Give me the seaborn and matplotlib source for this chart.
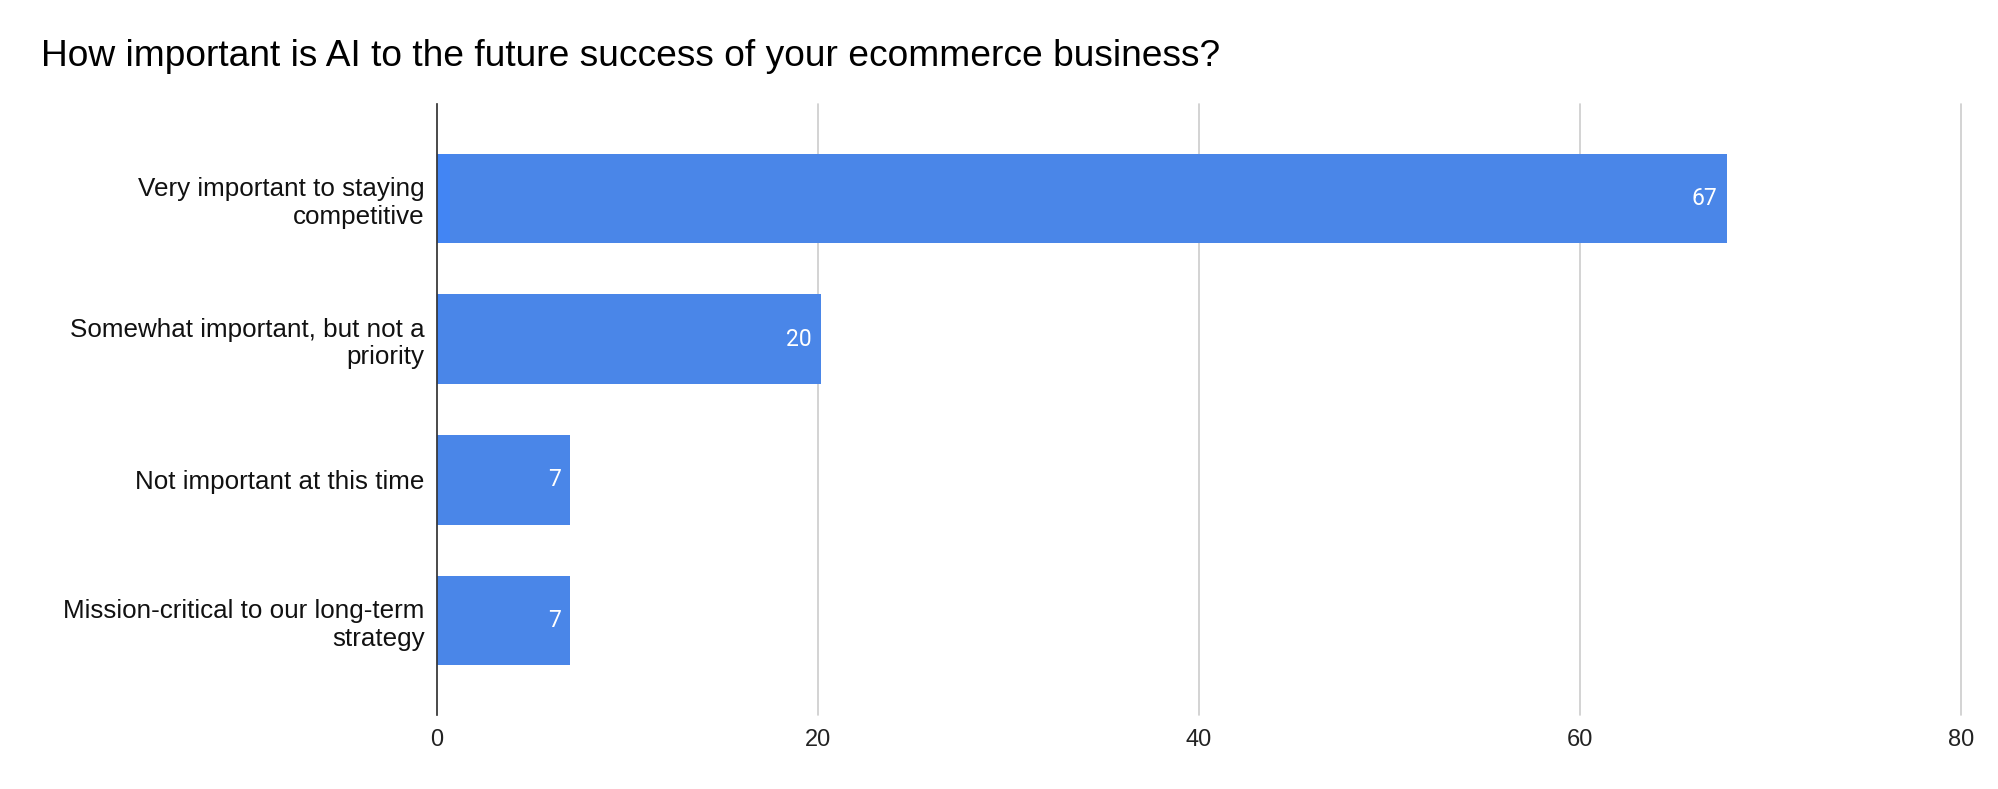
import matplotlib
matplotlib.use("Agg")
import matplotlib.pyplot as plt
import seaborn as sns
import numpy as np

categories = [
    "Very important to staying\ncompetitive",
    "Somewhat important, but not a\npriority",
    "Not important at this time",
    "Mission-critical to our long-term\nstrategy",
]
lead_values = [0.7, 0.15, 0.0, 0.0]
main_values = [67, 20, 7, 7]
x_ticks = [0, 20, 40, 60, 80]
title = "How important is AI to the future success of your ecommerce business?"

main_color = "#4a86e8"
lead_color = "#4285f4"

sns.set_theme(style="white")
plt.rcParams["font.family"] = ["Liberation Sans", "DejaVu Sans"]

fig = plt.figure(figsize=(19.99, 7.89), dpi=100)
ax = fig.add_axes([437 / 1999, 74 / 789, (1961 - 437) / 1999, (715 - 104) / 789])

totals = [a + b for a, b in zip(lead_values, main_values)]

sns.barplot(x=totals, y=categories, orient="h", color=main_color, saturation=1,
            width=0.635, linewidth=0, ax=ax, zorder=3)
sns.barplot(x=lead_values, y=categories, orient="h", color=lead_color, saturation=1,
            width=0.635, linewidth=0, ax=ax, zorder=3)

for i, (t, v) in enumerate(zip(totals, main_values)):
    ax.annotate(str(v), xy=(t, i), xytext=(-9, 0), textcoords="offset pixels",
                ha="right", va="center", color="white", fontsize=16.5,
                family=["Roboto", "DejaVu Sans"], zorder=4)

ax.set_xlim(0, 80)
ax.set_ylim(3.67, -0.67)
ax.set_xticks(x_ticks)
ax.set_xticklabels([str(t) for t in x_ticks])
ax.set_xlabel("")
ax.set_ylabel("")
ax.tick_params(axis="x", length=0, pad=10, labelsize=17, colors="#222222")
ax.tick_params(axis="y", length=0, pad=9, labelsize=18.7, colors="#111111")
for lab in ax.get_yticklabels():
    lab.set_multialignment("right")

ax.grid(axis="x", color="#cccccc", linewidth=1.2, zorder=0)
for gl in ax.get_xgridlines():
    gl.set_clip_on(False)
ax.grid(axis="y", visible=False)
for s in ["top", "right", "bottom"]:
    ax.spines[s].set_visible(False)
ax.spines["left"].set_color("#333333")
ax.spines["left"].set_linewidth(1.2)
ax.spines["left"].set_zorder(5)

fig.text(41 / 1999, 1 - 57 / 789, title, ha="left", va="center", fontsize=26.7,
         color="#000000")

fig.savefig("out.png", dpi=100, facecolor="white")
